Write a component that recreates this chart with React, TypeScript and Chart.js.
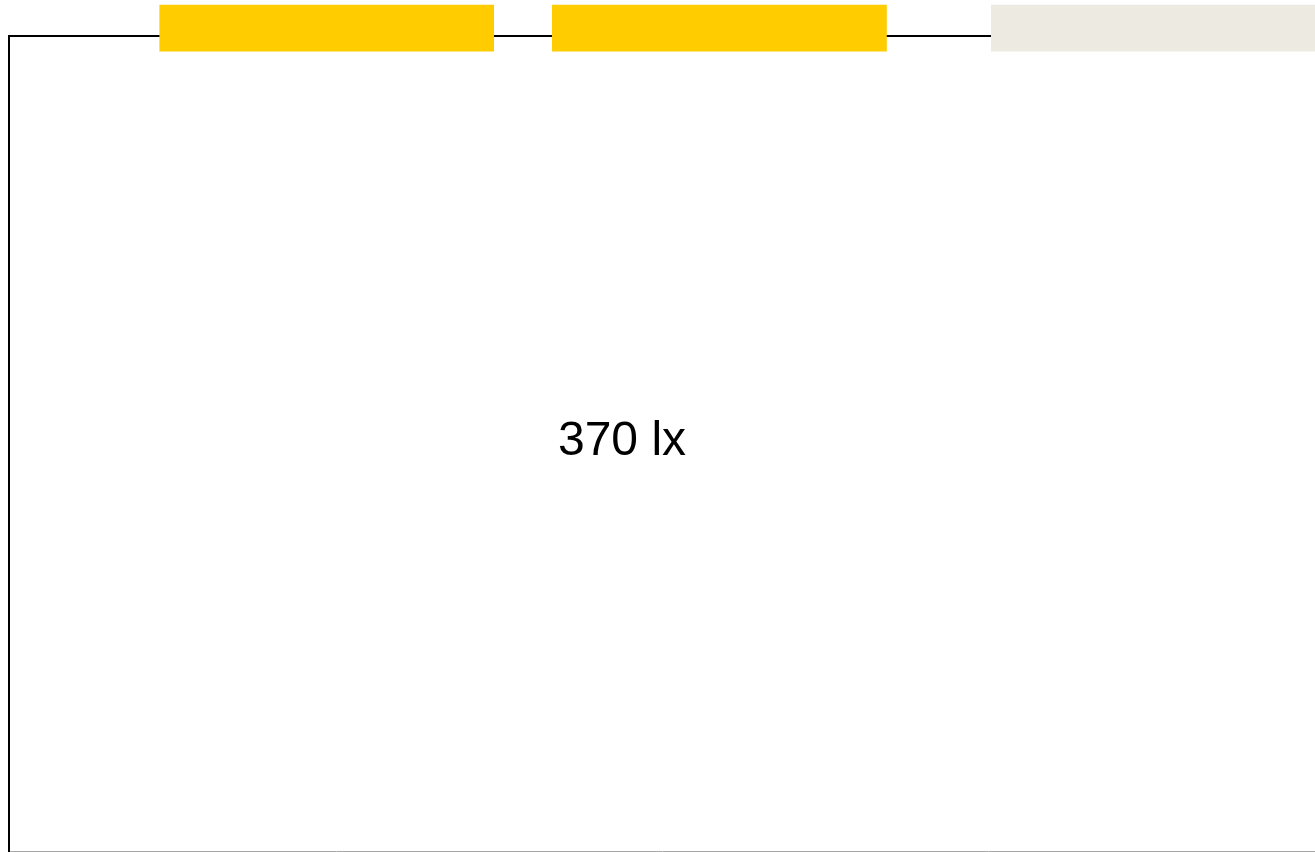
import React, { useEffect, useRef } from "react";
import { Chart, registerables } from "chart.js";

Chart.register(...registerables);

// Plan coordinates (plan units, y grows downward)
const planWidth = 1315;
const planHeight = 852;

// Room walls (polyline)
const wallX = [9, 9, 1315];
const wallY = [852, 36, 36];

// Floor edge
const floorX = [10, 1315];
const floorY = [851.5, 851.5];

// Openings along the top wall
const openingStart = [159.4, 552, 991];
const openingEnd = [494, 886.8, 1316];
const openingTop = [4.8, 4.8, 4.8];
const openingBottom = [51.6, 51.6, 51.6];
const openingColor = ["#FFCC00", "#FFCC00", "#EDEBE1"];

// Illuminance label
const labelText = ["370 lx"];
const labelX = [622];
const labelY = [455];

const labelPlugin = {
  id: "luxLabel",
  afterDatasetsDraw(chart: any) {
    const { ctx, scales } = chart;
    ctx.save();
    ctx.fillStyle = "#000000";
    ctx.font = '48px "Liberation Sans", Arial, sans-serif';
    ctx.textAlign = "center";
    ctx.textBaseline = "alphabetic";
    labelText.forEach((t, i) => {
      ctx.fillText(t, scales.x.getPixelForValue(labelX[i]), scales.y.getPixelForValue(labelY[i]));
    });
    ctx.restore();
  },
};

export default function App() {
  const ref = useRef<HTMLCanvasElement | null>(null);

  useEffect(() => {
    document.body.style.margin = "0";
    if (!ref.current) return;

    const openingSets = openingStart.map((s, i) => ({
      label: "opening" + i,
      data: [
        { x: s, y: openingTop[i] },
        { x: openingEnd[i], y: openingTop[i] },
        { x: openingEnd[i], y: openingBottom[i] },
        { x: s, y: openingBottom[i] },
        { x: s, y: openingTop[i] },
      ],
      showLine: true,
      fill: "shape",
      backgroundColor: openingColor[i],
      borderColor: openingColor[i],
      borderWidth: 0,
      pointRadius: 0,
      tension: 0,
      order: 0,
    }));

    const chart = new Chart(ref.current, {
      type: "scatter",
      data: {
        datasets: [
          ...openingSets,
          {
            label: "walls",
            data: wallX.map((x, i) => ({ x, y: wallY[i] })),
            showLine: true,
            borderColor: "#000000",
            borderWidth: 2,
            pointRadius: 0,
            fill: false,
            order: 2,
          },
          {
            label: "floor",
            data: floorX.map((x, i) => ({ x, y: floorY[i] })),
            showLine: true,
            borderColor: "#a8a8a8",
            borderWidth: 1,
            pointRadius: 0,
            fill: false,
            order: 3,
          },
        ] as any,
      },
      options: {
        animation: false,
        responsive: false,
        maintainAspectRatio: false,
        layout: { padding: 0 },
        plugins: {
          legend: { display: false },
          tooltip: { enabled: false },
          title: { display: false },
        },
        scales: {
          x: { type: "linear", min: 0, max: planWidth, display: false },
          y: { type: "linear", min: 0, max: planHeight, reverse: true, display: false },
        },
      },
      plugins: [labelPlugin],
    });
    return () => chart.destroy();
  }, []);

  return (
    <div style={{ width: planWidth, height: planHeight, background: "#ffffff" }}>
      <canvas ref={ref} width={planWidth} height={planHeight} style={{ display: "block" }} />
    </div>
  );
}
